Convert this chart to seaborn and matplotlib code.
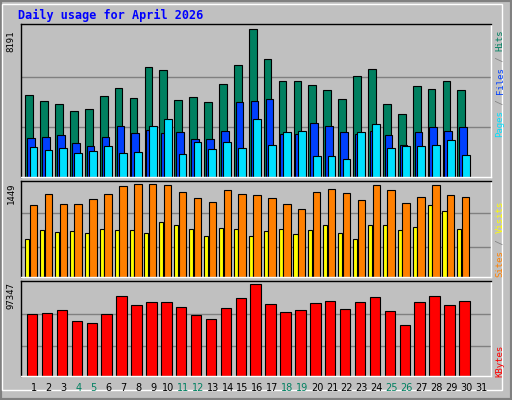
import numpy as np
import matplotlib
matplotlib.use("Agg")
import matplotlib.pyplot as plt
import seaborn as sns
from matplotlib.patches import Rectangle

days = list(range(1, 31))
hits = [4522,4188,4021,3632,3743,4466,4911,4355,6078,5911,4244,4410,4132,5133,6189,8191,
        6523,5300,5300,5077,4799,4299,5578,5967,4021,3465,5022,4855,5300,4799]
files = [2131,2187,2298,1853,1686,2187,2798,2409,2576,2409,2465,2075,2075,2520,4132,4188,
         4299,2353,2353,2965,2798,2465,2353,2520,2298,1742,2465,2742,2520,2742]
pages = [1631,1464,1575,1297,1408,1686,1297,1353,2798,3187,1242,1909,1519,1909,1575,3187,
         1742,2465,2520,1130,1130,964,2465,2909,1575,1686,1686,1742,2020,1186]
visits = [1119,1292,1135,1135,1213,1292,1417,1449,1449,1433,1323,1229,1166,1355,1292,1276,
          1229,1135,1056,1323,1370,1308,1198,1433,1355,1151,1245,1433,1276,1245]
sites = [586,727,696,711,680,743,727,727,680,853,805,743,633,758,743,633,
         711,743,664,727,805,680,586,805,805,727,774,1119,1025,743]
kbytes = [65375,66441,69639,57914,55782,65375,84561,74968,78166,78166,72836,64309,60046,71771,82430,97347,
          76034,67507,69639,77100,79232,70705,78166,83496,68573,53650,78166,84561,74968,79232]
day_labels = [str(d) for d in range(1, 32)]
weekend_days = [4, 5, 11, 12, 18, 19, 25, 26]
title = "Daily usage for April 2026"

sns.set_style("white")
plt.rcParams['font.family'] = ['DejaVu Sans']
BG = "#C0C0C0"
fig = plt.figure(figsize=(5.12, 4.0), dpi=100, facecolor=BG)

W, H = 512, 400
def axes_px(top, bottom):
    return fig.add_axes([21/W, 1-bottom/H, 470/W, (bottom-top)/H])

x = np.array(days, dtype=float)
def style(ax, ymax, fr):
    ax.set_facecolor(BG)
    ax.set_xlim(0.13, 31.67)
    ax.set_ylim(0, ymax)
    for f in fr:
        ax.axhline(f, color="#808080", lw=1, zorder=0)
    ax.set_xticks([]); ax.set_yticks([])
    for s in ax.spines.values():
        s.set_color("black"); s.set_linewidth(1)
    ax.spines['right'].set_color("white"); ax.spines['bottom'].set_color("white")

kw = dict(edgecolor="black", linewidth=0.8, align="center")
ax1 = axes_px(24, 176.7)
style(ax1, 8191*152.7/147.4, [8191*0.335, 8191*0.678])
ax1.bar(x-0.32, hits, width=0.52, color="#008060", **kw)
ax1.bar(x-0.2, files, width=0.52, color="#0040FF", **kw)
ax1.bar(x-0.03, pages, width=0.52, color="#00E0FF", **kw)

ax2 = axes_px(180.7, 276.7)
style(ax2, 1449*96/92.3, [1449*0.325, 1449*0.686])
ax2.bar(x-0.45, sites, width=0.27, color="#FFFF00", **kw)
ax2.bar(x-0.03, visits, width=0.5, color="#FF8000", **kw)

ax3 = axes_px(280.7, 375.7)
style(ax3, 97347*95/91.4, [97347*0.325, 97347*0.68])
ax3.bar(x-0.12, kbytes, width=0.7, color="#FF0000", **kw)

# day labels
for d, lab in zip(range(1, 32), day_labels):
    xp = (21 + (d-0.13)/(31.67-0.13)*470)/W
    fig.text(xp, 1-388/H, lab, ha="center", va="center", fontsize=7,
             color="#008060" if d in weekend_days else "black")

mono = dict(family="DejaVu Sans Mono", fontsize=6.5, rotation=90, ha="center", va="bottom")
def vlabel(parts, xpx, ybot_px, cw=5.35):
    y = ybot_px
    for txt, col in parts:
        fig.text(xpx/W, 1-y/H, txt, color=col, **mono)
        y -= cw*len(txt)

vlabel([("Pages", "#00E0FF"), (" / ", "#808080"), ("Files", "#0040FF"), (" / ", "#808080"), ("Hits", "#008060")], 500, 137)
vlabel([("Sites", "#FF8000"), (" / ", "#808080"), ("Visits", "#FFFF00")], 500, 277, 5.5)
vlabel([("KBytes", "#FF0000")], 500, 377, 6.0)

for lab, ytop in [("8191", 30), ("1449", 182), ("97347", 282)]:
    fig.text(11/W, 1-ytop/H, lab, family="DejaVu Sans Mono", fontsize=6.5, rotation=90,
             ha="center", va="top", color="black")

fig.text(18/W, 1-15/H, title, family="DejaVu Sans Mono", fontweight="bold", fontsize=8.5,
         color="#0000FF", ha="left", va="center")

# 3D border
fig.patches.append(Rectangle((0, 0), 1, 1, transform=fig.transFigure, fill=False,
                             edgecolor="#808080", lw=3))
fig.patches.append(Rectangle((2/W, 10/H), (W-12)/W, (H-14)/H, transform=fig.transFigure, fill=False,
                             edgecolor="white", lw=1))

fig.savefig("out.png", dpi=100, facecolor=BG)
